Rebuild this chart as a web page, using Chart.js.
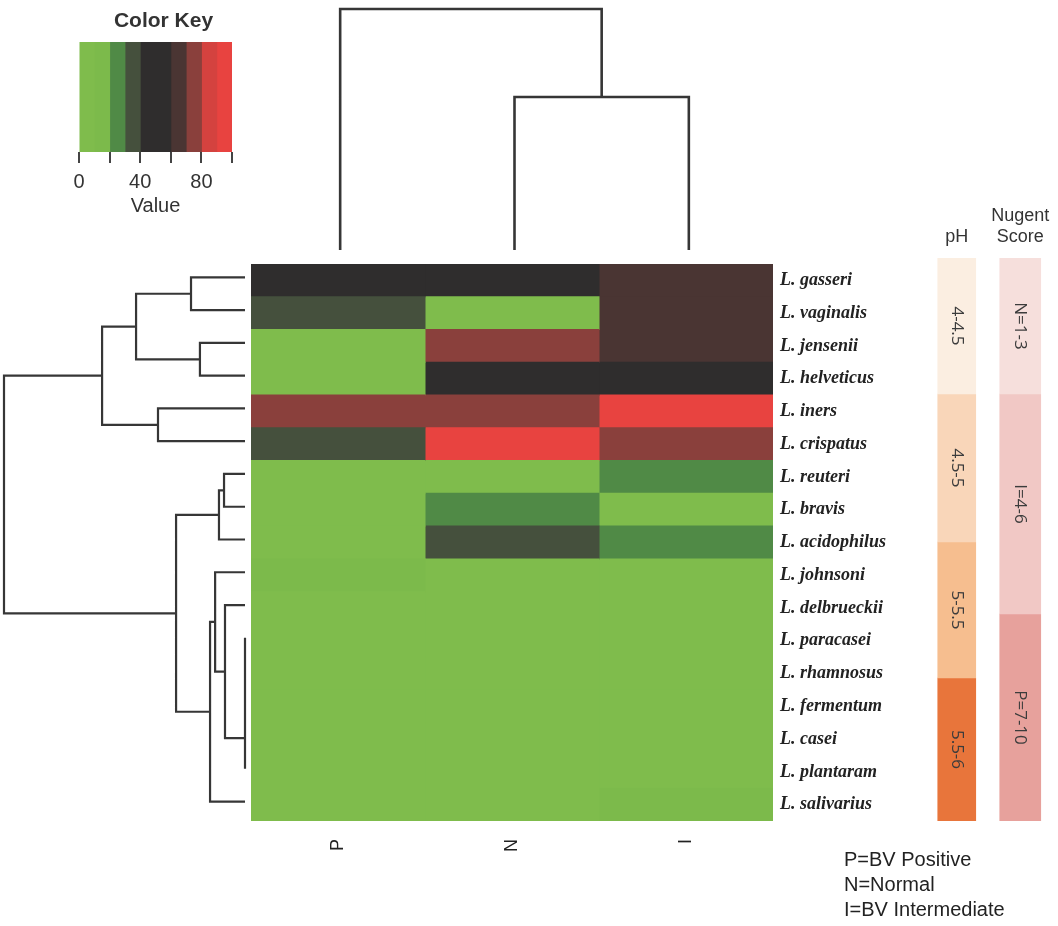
<!DOCTYPE html>
<html>
<head>
<meta charset="utf-8">
<script src="https://cdn.jsdelivr.net/npm/chart.js@4.4.1/dist/chart.umd.min.js"></script>
<style>
  body { margin: 0; background: #fff; }
  #wrap { position: relative; width: 1058px; height: 926px; overflow: hidden; }
  canvas { position: absolute; }
  #bvKey { position: absolute; left: 844px; top: 847px; font-family: "Liberation Sans", sans-serif;
           font-size: 20px; line-height: 25px; color: #222; }
</style>
</head>
<body>
<div id="wrap">
  <canvas id="key" width="206" height="221" style="left:60px;top:0"></canvas>
  <canvas id="colTree" width="523" height="262" style="left:253px;top:0"></canvas>
  <canvas id="rowTree" width="252" height="557" style="left:0;top:261px"></canvas>
  <canvas id="heat" width="679" height="617" style="left:251px;top:264px"></canvas>
  <canvas id="bands" width="127" height="631" style="left:925px;top:190px"></canvas>
  <div id="bvKey">P=BV Positive<br>N=Normal<br>I=BV Intermediate</div>
</div>
<script>
// species in dendrogram order (top to bottom)
const species = ['L. gasseri', 'L. vaginalis', 'L. jensenii', 'L. helveticus', 'L. iners', 'L. crispatus',
  'L. reuteri', 'L. bravis', 'L. acidophilus', 'L. johnsoni', 'L. delbrueckii', 'L. paracasei',
  'L. rhamnosus', 'L. fermentum', 'L. casei', 'L. plantaram', 'L. salivarius'];
const groups = ['P', 'N', 'I'];

// heatmap values (0-100) per group
const valuesP = [50, 35, 5, 5, 75, 35, 5, 5, 5, 15, 5, 5, 5, 5, 5, 5, 5];
const valuesN = [50, 5, 75, 50, 75, 95, 5, 25, 35, 5, 5, 5, 5, 5, 5, 5, 5];
const valuesI = [65, 65, 65, 50, 95, 75, 25, 5, 25, 5, 5, 5, 5, 5, 5, 5, 15];

// colour key: 10 bins from 0 to 100
const keyBreaks = [0, 10, 20, 30, 40, 50, 60, 70, 80, 90, 100];
const keyColors = ['#7fbc4c', '#7cba4b', '#508a46', '#45503d', '#2f2d2d', '#2f2d2d', '#4a3533', '#8a403c', '#d4423f', '#e84340'];
const keyTicks = [0, 20, 40, 60, 80, 100];
const keyTickLabels = [0, 40, 80];

// row clustering (hclust style: negative = leaf, positive = earlier merge)
const rowMerge = [[-1, -2], [-3, -4], [1, 2], [-5, -6], [3, 4], [-7, -8], [6, -9], [-12, -13], [8, -14],
  [9, -15], [10, -16], [-11, 11], [-10, 12], [13, -17], [7, 14], [5, 15]];
const rowHeight = [22.4, 18.7, 45.2, 36.1, 59.3, 8.7, 10.8, 0, 0, 0, 0, 8.3, 12.4, 14.5, 28.6, 100];

// column clustering
const colMerge = [[-2, -3], [-1, 1]];
const colHeight = [63.5, 100];

// side bars: pH and Nugent score bands (relative lengths)
const phLabels = ['4-4.5', '4.5-5', '5-5.5', '5.5-6'];
const phSpans = [136, 148, 136, 143];
const phColors = ['#fbeee1', '#f9d6b9', '#f6be8f', '#e8753b'];
const nugentLabels = ['N=1-3', 'I=4-6', 'P=7-10'];
const nugentSpans = [136, 220, 207];
const nugentColors = ['#f6dfdc', '#f1c8c5', '#e7a19c'];

const colorFor = v => keyColors[Math.min(keyColors.length - 1, Math.floor(v / 10))];
const lineColor = '#363636';

function treePoints(merge, heights) {
  const pos = [], hgt = [], pts = [];
  const get = r => r < 0 ? [-r - 1, 0] : [pos[r - 1], hgt[r - 1]];
  merge.forEach(([a, b], i) => {
    const [pa, ha] = get(a), [pb, hb] = get(b), h = heights[i];
    pts.push([pa, ha], [pa, h], [pb, h], [pb, hb], null);
    pos.push((pa + pb) / 2);
    hgt.push(h);
  });
  return pts;
}

const noUi = { legend: { display: false }, tooltip: { enabled: false } };

// "Color Key" sits a little right of the key's centre
const keyTitle = {
  id: 'keyTitle',
  afterDraw(chart) {
    const { ctx, chartArea } = chart;
    ctx.save();
    ctx.font = 'bold 21px "Liberation Sans"';
    ctx.fillStyle = '#333';
    ctx.textAlign = 'center';
    ctx.textBaseline = 'middle';
    ctx.fillText('Color Key', (chartArea.left + chartArea.right) / 2 + 8, 21);
    ctx.restore();
  }
};

// colour key
new Chart(document.getElementById('key'), {
  type: 'bar',
  data: {
    labels: [''],
    datasets: keyColors.map((c, i) => ({
      data: [[keyBreaks[i], keyBreaks[i + 1]]], backgroundColor: c, borderWidth: 0,
      barPercentage: 1, categoryPercentage: 1, grouped: false, inflateAmount: 0.5
    }))
  },
  options: {
    indexAxis: 'y', responsive: false, animation: false,
    layout: { padding: { left: 19, right: 34, top: 42 } },
    plugins: noUi,
    scales: {
      y: { display: false },
      x: {
        type: 'linear', min: 0, max: 100,
        afterBuildTicks: s => { s.ticks = keyTicks.map(v => ({ value: v })); },
        afterFit: s => { s.height = 69; },
        ticks: { callback: v => keyTickLabels.includes(v) ? String(v) : '', autoSkip: false, maxRotation: 0,
                 color: '#333', padding: 7, font: { family: 'Liberation Sans', size: 20 } },
        grid: { drawOnChartArea: false, drawTicks: true, tickLength: 11, color: '#444', lineWidth: 2 },
        border: { display: false },
        title: { display: true, text: 'Value', color: '#333', font: { family: 'Liberation Sans', size: 20 }, padding: { top: 0, bottom: 3 } }
      }
    }
  },
  plugins: [keyTitle]
});

// column dendrogram
new Chart(document.getElementById('colTree'), {
  type: 'scatter',
  data: { datasets: [{ data: treePoints(colMerge, colHeight).map(p => p ? { x: p[0], y: p[1] } : { x: null, y: null }),
    showLine: true, borderColor: lineColor, borderWidth: 2.6, pointRadius: 0, clip: false }] },
  options: {
    responsive: false, animation: false, plugins: noUi,
    layout: { padding: { top: 9, bottom: 12, left: 0, right: 0 } },
    scales: { x: { type: 'linear', min: -0.5, max: 2.5, display: false }, y: { type: 'linear', min: 0, max: 100, display: false } }
  }
});

// row dendrogram
new Chart(document.getElementById('rowTree'), {
  type: 'scatter',
  data: { datasets: [{ data: treePoints(rowMerge, rowHeight).map(p => p ? { x: p[1], y: p[0] } : { x: null, y: null }),
    showLine: true, borderColor: lineColor, borderWidth: 2.2, pointRadius: 0, clip: false }] },
  options: {
    responsive: false, animation: false, plugins: noUi,
    layout: { padding: { top: 0, bottom: 0, left: 4, right: 7 } },
    scales: {
      x: { type: 'linear', min: 0, max: 100, reverse: true, display: false },
      y: { type: 'linear', min: -0.5, max: species.length - 0.5, reverse: true, display: false }
    }
  }
});

// heatmap
const columns = [valuesP, valuesN, valuesI];
new Chart(document.getElementById('heat'), {
  type: 'bar',
  data: {
    labels: species,
    datasets: groups.map((g, c) => ({
      label: g,
      data: species.map(() => [c, c + 1]),
      backgroundColor: columns[c].map(colorFor),
      borderWidth: 0, barPercentage: 1, categoryPercentage: 1, grouped: false, inflateAmount: 0.5
    }))
  },
  options: {
    indexAxis: 'y', responsive: false, animation: false, plugins: noUi,
    layout: { padding: 0 },
    scales: {
      x: {
        type: 'linear', min: 0, max: groups.length, position: 'bottom',
        afterBuildTicks: s => { s.ticks = groups.map((g, i) => ({ value: i + 0.5 })); },
        afterFit: s => { s.height = 60; s.paddingLeft = 0; s.paddingRight = 0; },
        ticks: { callback: (v, i) => groups[i], autoSkip: false, minRotation: 90, maxRotation: 90, padding: 18,
                 color: '#222', font: { family: 'Liberation Sans', size: 18 } },
        grid: { display: false, drawTicks: false }, border: { display: false }
      },
      y: {
        type: 'category', position: 'right',
        afterFit: s => { s.width = 157; s.paddingTop = 0; s.paddingBottom = 0; },
        ticks: { padding: 7, color: '#222', font: { family: 'Liberation Serif', size: 18, style: 'italic', weight: 'bold' } },
        grid: { display: false, drawTicks: false }, border: { display: false }
      }
    }
  }
});

// pH / Nugent score bands
const cum = arr => arr.map((v, i) => arr.slice(0, i).reduce((a, b) => a + b, 0));
const phStart = cum(phSpans), nuStart = cum(nugentSpans);
const bandSets = [
  ...phLabels.map((l, i) => ({ label: l, data: [[phStart[i], phStart[i] + phSpans[i]], null], backgroundColor: phColors[i], barThickness: 38 })),
  ...nugentLabels.map((l, i) => ({ label: l, data: [null, [nuStart[i], nuStart[i] + nugentSpans[i]]], backgroundColor: nugentColors[i], barThickness: 41 }))
].map(d => ({ ...d, borderWidth: 0, grouped: false }));

const bandText = {
  id: 'bandText',
  afterDatasetsDraw(chart) {
    const ctx = chart.ctx;
    chart.data.datasets.forEach((ds, i) => {
      chart.getDatasetMeta(i).data.forEach((bar, j) => {
        if (ds.data[j] == null) return;
        const p = bar.getCenterPoint();
        ctx.save();
        ctx.translate(p.x, p.y);
        ctx.rotate(Math.PI / 2);
        ctx.font = '17px "Open Sans"';
        ctx.fillStyle = '#3c3c3c';
        ctx.textAlign = 'center';
        ctx.textBaseline = 'middle';
        ctx.fillText(ds.label, 0, 0);
        ctx.restore();
      });
    });
  }
};

new Chart(document.getElementById('bands'), {
  type: 'bar',
  data: { labels: ['pH', ['Nugent', 'Score']], datasets: bandSets },
  options: {
    responsive: false, animation: false, plugins: noUi,
    layout: { padding: 0 },
    scales: {
      x: {
        position: 'top',
        afterFit: s => { s.height = 68; s.paddingLeft = 0; s.paddingRight = 0; },
        ticks: { padding: 10, color: '#333', maxRotation: 0, autoSkip: false, font: { family: 'Liberation Sans', size: 18 } },
        grid: { display: false, drawTicks: false }, border: { display: false }
      },
      y: { type: 'linear', min: 0, max: phSpans.reduce((a, b) => a + b, 0), reverse: true, display: false }
    }
  },
  plugins: [bandText]
});
</script>
</body>
</html>
